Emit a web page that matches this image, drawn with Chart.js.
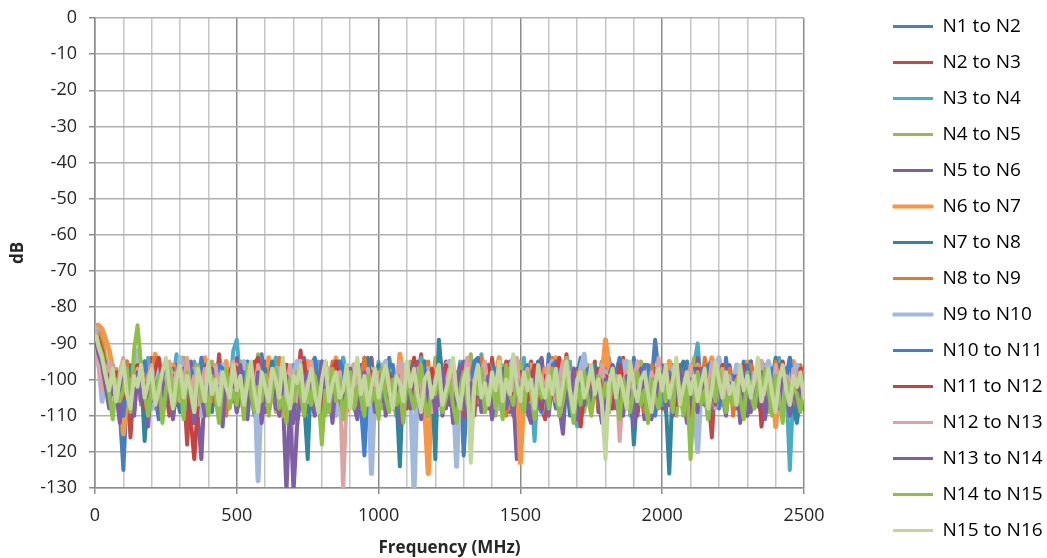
<!DOCTYPE html>
<html>
<head>
<meta charset="utf-8">
<script src="https://cdn.jsdelivr.net/npm/chart.js@4.4.1/dist/chart.umd.min.js"></script>
<style>
  html, body { margin: 0; padding: 0; background: #ffffff; }
  #grafico { display: block; }
</style>
</head>
<body>
<canvas id="grafico" width="1047" height="558"></canvas>
<script>
// frecuencia de cada muestra (MHz)
const frecuencias = [
  5, 12.5, 25, 37.5, 50, 62.5, 75, 87.5, 100, 112.5, 125, 137.5, 150, 162.5, 175, 187.5, 200, 212.5, 225, 237.5,
  250, 262.5, 275, 287.5, 300, 312.5, 325, 337.5, 350, 362.5, 375, 387.5, 400, 412.5, 425, 437.5, 450, 462.5, 475, 487.5,
  500, 512.5, 525, 537.5, 550, 562.5, 575, 587.5, 600, 612.5, 625, 637.5, 650, 662.5, 675, 687.5, 700, 712.5, 725, 737.5,
  750, 762.5, 775, 787.5, 800, 812.5, 825, 837.5, 850, 862.5, 875, 887.5, 900, 912.5, 925, 937.5, 950, 962.5, 975, 987.5,
  1000, 1012.5, 1025, 1037.5, 1050, 1062.5, 1075, 1087.5, 1100, 1112.5, 1125, 1137.5, 1150, 1162.5, 1175, 1187.5, 1200, 1212.5, 1225, 1237.5,
  1250, 1262.5, 1275, 1287.5, 1300, 1312.5, 1325, 1337.5, 1350, 1362.5, 1375, 1387.5, 1400, 1412.5, 1425, 1437.5, 1450, 1462.5, 1475, 1487.5,
  1500, 1512.5, 1525, 1537.5, 1550, 1562.5, 1575, 1587.5, 1600, 1612.5, 1625, 1637.5, 1650, 1662.5, 1675, 1687.5, 1700, 1712.5, 1725, 1737.5,
  1750, 1762.5, 1775, 1787.5, 1800, 1812.5, 1825, 1837.5, 1850, 1862.5, 1875, 1887.5, 1900, 1912.5, 1925, 1937.5, 1950, 1962.5, 1975, 1987.5,
  2000, 2012.5, 2025, 2037.5, 2050, 2062.5, 2075, 2087.5, 2100, 2112.5, 2125, 2137.5, 2150, 2162.5, 2175, 2187.5, 2200, 2212.5, 2225, 2237.5,
  2250, 2262.5, 2275, 2287.5, 2300, 2312.5, 2325, 2337.5, 2350, 2362.5, 2375, 2387.5, 2400, 2412.5, 2425, 2437.5, 2450, 2462.5, 2475, 2487.5,
  2500];

// acoplamiento medido en dB para cada par de nodos
const n1n2 = [
  -88, -90, -93, -97, -101, -96, -104, -109, -125, -103, -99, -106, -97, -102, -108, -95, -100, -105, -111, -98,
  -96, -103, -99, -107, -101, -94, -98, -105, -112, -100, -96, -102, -108, -99, -104, -95, -101, -109, -97, -103,
  -106, -98, -101, -95, -104, -110, -99, -93, -102, -107, -97, -105, -100, -96, -108, -103, -99, -111, -101, -94,
  -104, -98, -107, -100, -95, -103, -109, -97, -101, -106, -94, -102, -99, -108, -96, -104, -100, -110, -118, -103,
  -97, -105, -100, -94, -102, -108, -99, -96, -104, -101, -107, -95, -103, -110, -98, -100, -106, -93, -101, -105,
  -97, -109, -102, -96, -121, -104, -99, -95, -107, -101, -98, -105, -110, -100, -94, -103, -108, -97, -101, -106,
  -95, -102, -99, -109, -104, -97, -100, -106, -93, -103, -108, -98, -101, -96, -105, -111, -99, -94, -104, -100,
  -107, -97, -102, -95, -105, -109, -100, -98, -104, -96, -101, -108, -94, -103, -99, -106, -97, -101, -89, -98,
  -104, -109, -100, -96, -103, -107, -99, -95, -105, -111, -101, -97, -104, -100, -108, -96, -102, -106, -94, -103,
  -99, -107, -101, -95, -110, -103, -98, -104, -100, -96, -106, -102, -108, -97, -101, -105, -94, -103, -109, -99,
  -97];
const n2n3 = [
  -86, -88, -91, -95, -100, -104, -98, -102, -107, -97, -116, -101, -95, -103, -99, -108, -94, -105, -100, -97,
  -103, -110, -98, -104, -96, -101, -118, -99, -106, -102, -95, -109, -100, -97, -105, -93, -103, -108, -99, -101,
  -96, -104, -107, -98, -102, -95, -110, -100, -97, -105, -101, -94, -108, -103, -99, -106, -96, -102, -92, -104,
  -109, -100, -97, -103, -107, -95, -101, -111, -98, -104, -100, -96, -105, -99, -108, -102, -94, -106, -101, -97,
  -103, -99, -95, -107, -101, -104, -110, -98, -96, -102, -106, -100, -93, -104, -108, -97, -101, -105, -99, -95,
  -107, -102, -98, -104, -110, -96, -101, -106, -99, -103, -97, -108, -94, -102, -105, -100, -96, -109, -101, -98,
  -104, -106, -99, -95, -103, -100, -108, -111, -97, -102, -96, -105, -101, -93, -107, -99, -104, -98, -102, -106,
  -100, -95, -109, -101, -97, -104, -107, -99, -103, -94, -105, -100, -98, -110, -102, -96, -106, -101, -97, -104,
  -108, -99, -95, -103, -100, -106, -97, -102, -109, -101, -96, -105, -99, -104, -116, -100, -94, -107, -103, -98,
  -101, -105, -97, -108, -100, -95, -103, -99, -106, -102, -96, -109, -101, -98, -104, -100, -107, -95, -102, -99,
  -101];
const n3n4 = [
  -87, -90, -94, -99, -103, -97, -106, -101, -110, -95, -104, -99, -97, -107, -101, -94, -103, -108, -98, -102,
  -96, -105, -100, -93, -104, -99, -107, -102, -95, -101, -109, -97, -103, -100, -106, -96, -102, -98, -105, -92,
  -89, -101, -97, -104, -100, -109, -95, -103, -99, -106, -101, -94, -105, -98, -102, -108, -96, -100, -104, -97,
  -103, -99, -107, -95, -115, -101, -98, -104, -100, -106, -94, -102, -97, -108, -103, -99, -105, -96, -101, -107,
  -95, -103, -100, -98, -106, -110, -102, -96, -104, -99, -101, -107, -94, -103, -97, -105, -100, -108, -96, -102,
  -99, -104, -106, -95, -101, -97, -109, -103, -100, -93, -105, -98, -102, -107, -96, -104, -100, -97, -108, -101,
  -99, -94, -106, -102, -117, -100, -97, -104, -108, -96, -101, -105, -99, -103, -95, -107, -113, -100, -98, -104,
  -102, -96, -105, -100, -108, -94, -101, -106, -97, -103, -99, -110, -104, -95, -102, -98, -106, -100, -97, -105,
  -107, -101, -95, -103, -99, -106, -98, -104, -100, -96, -90, -102, -105, -97, -109, -101, -96, -104, -100, -98,
  -102, -107, -97, -104, -99, -95, -108, -101, -96, -103, -100, -106, -98, -94, -105, -101, -125, -103, -99, -106,
  -104];
const n4n5 = [
  -85, -86, -89, -94, -99, -103, -97, -101, -108, -96, -104, -99, -92, -102, -107, -98, -103, -100, -95, -106,
  -101, -97, -110, -99, -104, -94, -100, -106, -98, -103, -96, -108, -101, -95, -105, -99, -102, -109, -97, -104,
  -100, -95, -107, -103, -98, -101, -93, -106, -100, -104, -97, -109, -102, -96, -105, -99, -101, -108, -95, -103,
  -99, -106, -100, -97, -104, -110, -98, -102, -95, -107, -101, -96, -103, -99, -108, -100, -94, -105, -102, -97,
  -103, -108, -99, -101, -96, -110, -104, -98, -102, -95, -106, -100, -97, -105, -101, -108, -94, -103, -99, -106,
  -96, -102, -100, -107, -104, -98, -93, -105, -101, -97, -106, -99, -103, -110, -100, -96, -104, -108, -98, -101,
  -95, -103, -99, -106, -100, -97, -108, -102, -96, -104, -101, -107, -99, -94, -105, -100, -103, -98, -109, -102,
  -97, -104, -100, -95, -106, -109, -101, -98, -103, -96, -107, -100, -104, -99, -95, -102, -108, -101, -97, -105,
  -100, -103, -98, -106, -110, -101, -96, -104, -99, -94, -103, -107, -100, -97, -105, -101, -108, -96, -102, -99,
  -104, -106, -98, -101, -95, -103, -107, -100, -97, -104, -109, -99, -102, -96, -105, -101, -98, -107, -103, -99,
  -103];
const n5n6 = [
  -89, -91, -95, -100, -97, -104, -99, -108, -102, -96, -106, -110, -98, -103, -95, -107, -101, -97, -105, -100,
  -104, -98, -109, -96, -102, -107, -100, -95, -105, -110, -122, -101, -97, -104, -99, -108, -103, -96, -100, -106,
  -94, -102, -109, -99, -104, -97, -101, -107, -95, -103, -100, -108, -98, -105, -131, -106, -112, -99, -104, -99,
  -101, -96, -108, -103, -99, -105, -97, -110, -101, -95, -104, -100, -107, -98, -103, -96, -109, -101, -94, -105,
  -100, -106, -97, -103, -108, -99, -111, -104, -96, -101, -98, -105, -102, -95, -108, -100, -104, -97, -110, -101,
  -97, -103, -106, -99, -95, -104, -101, -108, -98, -102, -96, -107, -100, -104, -97, -109, -102, -95, -105, -122,
  -100, -98, -104, -107, -100, -96, -94, -103, -107, -101, -99, -110, -104, -96, -101, -106, -98, -103, -99, -105,
  -104, -97, -100, -108, -102, -95, -108, -101, -97, -104, -95, -100, -106, -99, -102, -111, -98, -104, -101, -96,
  -96, -103, -107, -100, -99, -105, -97, -102, -107, -110, -94, -101, -104, -98, -109, -102, -97, -105, -100, -96,
  -103, -108, -98, -101, -110, -95, -104, -100, -107, -97, -101, -105, -99, -96, -106, -102, -108, -100, -97, -104,
  -99];
const n6n7 = [
  -85, -85, -86, -89, -92, -97, -103, -99, -115, -104, -98, -101, -95, -106, -100, -97, -104, -93, -102, -108,
  -99, -105, -96, -101, -108, -95, -103, -100, -97, -106, -102, -94, -99, -107, -104, -98, -101, -95, -105, -100,
  -96, -103, -109, -98, -102, -105, -97, -100, -107, -94, -101, -104, -99, -110, -96, -103, -100, -97, -106, -102,
  -95, -104, -99, -108, -101, -97, -103, -100, -94, -106, -98, -102, -105, -96, -101, -109, -99, -104, -97, -103,
  -100, -96, -106, -102, -98, -105, -93, -101, -107, -99, -104, -97, -102, -108, -126, -103, -96, -100, -105, -99,
  -95, -101, -104, -98, -108, -102, -96, -100, -106, -99, -103, -97, -105, -101, -94, -107, -100, -103, -98, -95,
  -123, -104, -99, -96, -103, -100, -107, -97, -101, -105, -94, -102, -108, -99, -104, -97, -100, -106, -96, -103,
  -101, -98, -105, -100, -89, -97, -103, -107, -99, -95, -104, -101, -110, -98, -102, -96, -106, -100, -97, -104,
  -100, -103, -95, -99, -106, -101, -97, -104, -109, -102, -96, -100, -105, -98, -94, -103, -101, -107, -99, -104,
  -102, -97, -108, -101, -96, -104, -99, -103, -95, -106, -100, -98, -113, -102, -97, -105, -101, -95, -104, -100,
  -98];
const n7n8 = [
  -90, -92, -95, -101, -97, -104, -99, -103, -108, -100, -96, -105, -101, -98, -117, -104, -100, -96, -103, -99,
  -106, -101, -97, -104, -109, -100, -95, -102, -98, -106, -103, -97, -101, -109, -96, -104, -100, -107, -99, -102,
  -107, -98, -103, -96, -101, -99, -110, -104, -97, -101, -95, -103, -105, -99, -98, -102, -104, -100, -96, -106,
  -122, -97, -105, -100, -104, -98, -106, -101, -95, -103, -108, -99, -104, -100, -97, -106, -101, -94, -103, -100,
  -96, -105, -101, -98, -100, -104, -124, -99, -98, -103, -101, -107, -104, -95, -103, -99, -122, -89, -100, -102,
  -102, -97, -99, -106, -104, -97, -101, -104, -100, -96, -109, -103, -96, -100, -103, -108, -101, -97, -105, -99,
  -98, -102, -105, -99, -100, -95, -107, -101, -102, -98, -99, -105, -104, -100, -110, -103, -97, -101, -100, -106,
  -103, -96, -100, -104, -106, -99, -96, -102, -101, -105, -108, -100, -118, -103, -99, -97, -104, -101, -97, -103,
  -102, -106, -126, -100, -100, -97, -95, -103, -105, -100, -99, -104, -107, -98, -101, -95, -96, -103, -104, -100,
  -100, -105, -109, -99, -97, -101, -103, -107, -99, -102, -106, -100, -94, -103, -102, -97, -105, -108, -112, -104,
  -108];
const n8n9 = [
  -86, -88, -91, -97, -102, -99, -103, -108, -100, -95, -106, -101, -96, -104, -99, -107, -102, -94, -100, -105,
  -98, -103, -109, -97, -101, -105, -96, -100, -108, -102, -95, -104, -99, -106, -101, -97, -103, -110, -98, -102,
  -104, -96, -100, -107, -99, -103, -95, -105, -101, -98, -106, -100, -94, -103, -108, -97, -102, -99, -105, -110,
  -100, -96, -104, -101, -107, -98, -102, -95, -105, -100, -97, -109, -103, -99, -106, -101, -94, -104, -98, -102,
  -106, -100, -97, -105, -103, -99, -108, -101, -96, -104, -100, -107, -98, -102, -95, -109, -103, -97, -101, -105,
  -99, -104, -100, -96, -108, -102, -98, -105, -101, -94, -103, -107, -100, -97, -104, -99, -110, -102, -96, -101,
  -105, -98, -103, -100, -107, -96, -101, -104, -99, -94, -106, -102, -97, -103, -100, -108, -98, -105, -101, -96,
  -104, -100, -107, -97, -102, -99, -105, -101, -95, -103, -98, -106, -100, -104, -97, -109, -102, -96, -101, -105,
  -99, -103, -106, -97, -101, -104, -100, -108, -96, -102, -99, -105, -94, -101, -107, -98, -103, -100, -106, -97,
  -110, -102, -98, -104, -100, -96, -106, -101, -97, -103, -99, -108, -95, -101, -104, -98, -102, -106, -100, -96,
  -101];
const n9n10 = [
  -86, -95, -106, -101, -95, -99, -100, -104, -97, -102, -104, -98, -92, -100, -101, -106, -108, -99, -96, -103,
  -103, -97, -99, -105, -94, -101, -105, -108, -100, -96, -110, -103, -97, -100, -102, -107, -96, -101, -106, -99,
  -100, -104, -95, -102, -103, -98, -128, -100, -99, -106, -104, -97, -97, -103, -108, -101, -101, -95, -95, -104,
  -106, -99, -100, -105, -97, -101, -104, -107, -110, -98, -99, -104, -103, -96, -96, -102, -105, -99, -126, -101,
  -100, -97, -95, -103, -107, -100, -102, -96, -98, -104, -131, -99, -101, -105, -97, -100, -104, -108, -99, -96,
  -95, -102, -124, -99, -100, -105, -106, -98, -97, -101, -103, -96, -99, -107, -108, -102, -101, -97, -94, -103,
  -104, -98, -100, -106, -97, -103, -109, -100, -102, -95, -96, -104, -105, -99, -99, -103, -103, -97, -93, -101,
  -107, -104, -101, -97, -98, -103, -104, -100, -100, -96, -95, -102, -106, -99, -102, -105, -97, -101, -108, -99,
  -99, -104, -103, -97, -96, -101, -105, -98, -101, -106, -120, -102, -98, -103, -104, -99, -94, -100, -106, -103,
  -101, -96, -97, -104, -103, -100, -99, -106, -107, -97, -95, -101, -102, -108, -108, -99, -100, -97, -96, -102,
  -104];
const n10n11 = [
  -88, -90, -93, -96, -98, -103, -104, -109, -110, -101, -97, -105, -102, -96, -95, -100, -106, -102, -100, -104,
  -96, -101, -103, -107, -99, -102, -108, -97, -101, -105, -94, -99, -105, -102, -100, -96, -97, -104, -103, -99,
  -109, -104, -98, -101, -102, -107, -95, -99, -104, -101, -100, -106, -107, -98, -96, -103, -101, -99, -105, -102,
  -99, -96, -94, -101, -103, -106, -108, -100, -100, -95, -97, -104, -105, -101, -102, -107, -121, -99, -98, -103,
  -104, -100, -100, -96, -96, -103, -107, -101, -101, -98, -95, -104, -103, -97, -110, -102, -99, -105, -104, -100,
  -97, -103, -102, -99, -106, -101, -100, -95, -94, -104, -108, -100, -101, -97, -97, -105, -103, -99, -99, -104,
  -105, -98, -96, -101, -102, -107, -109, -100, -100, -96, -95, -103, -104, -99, -98, -106, -106, -101, -101, -97,
  -97, -104, -103, -100, -99, -105, -107, -98, -94, -102, -100, -106, -105, -101, -101, -96, -96, -104, -110, -103,
  -102, -99, -98, -103, -104, -100, -100, -107, -106, -97, -97, -103, -101, -96, -95, -105, -108, -100, -103, -99,
  -99, -104, -104, -98, -96, -101, -101, -107, -109, -102, -98, -97, -103, -104, -100, -99, -94, -102, -106, -100,
  -100];
const n11n12 = [
  -87, -89, -92, -97, -103, -100, -98, -104, -105, -99, -100, -97, -96, -103, -108, -102, -101, -97, -94, -100,
  -104, -106, -99, -102, -106, -97, -101, -111, -122, -107, -101, -97, -95, -100, -103, -109, -104, -100, -98, -96,
  -97, -103, -105, -99, -101, -96, -94, -104, -109, -102, -99, -105, -103, -98, -96, -100, -106, -103, -100, -95,
  -104, -98, -101, -106, -110, -99, -103, -97, -95, -102, -107, -100, -99, -104, -96, -101, -108, -103, -98, -105,
  -100, -97, -103, -99, -105, -101, -96, -104, -108, -100, -94, -102, -106, -99, -103, -97, -101, -107, -100, -96,
  -103, -99, -105, -100, -97, -104, -101, -110, -98, -102, -106, -96, -100, -104, -99, -103, -95, -101, -107, -102,
  -98, -102, -106, -100, -96, -103, -108, -99, -101, -105, -97, -94, -102, -104, -100, -98, -106, -113, -103, -99,
  -101, -105, -97, -103, -99, -100, -108, -104, -96, -101, -106, -99, -102, -97, -105, -100, -103, -107, -98, -104,
  -100, -96, -103, -99, -107, -101, -104, -98, -110, -102, -97, -105, -100, -103, -99, -106, -101, -96, -104, -100,
  -105, -99, -102, -96, -103, -108, -100, -97, -113, -104, -100, -106, -98, -102, -95, -101, -105, -99, -103, -97,
  -106];
const n12n13 = [
  -87, -96, -103, -99, -95, -101, -106, -98, -94, -103, -100, -107, -97, -102, -105, -99, -96, -104, -101, -108,
  -100, -95, -103, -98, -106, -101, -94, -104, -99, -107, -102, -97, -105, -100, -96, -103, -109, -99, -102, -95,
  -103, -98, -106, -101, -99, -104, -96, -100, -107, -102, -97, -105, -110, -99, -103, -96, -101, -106, -98, -104,
  -100, -95, -102, -107, -99, -103, -97, -101, -105, -98, -131, -104, -100, -96, -103, -108, -101, -97, -105, -100,
  -98, -103, -96, -101, -106, -99, -95, -104, -100, -107, -102, -97, -105, -99, -103, -109, -100, -96, -104, -101,
  -97, -103, -99, -105, -101, -94, -107, -100, -103, -98, -95, -104, -101, -106, -99, -102, -108, -97, -103, -94,
  -105, -100, -97, -103, -108, -101, -99, -104, -96, -102, -106, -100, -95, -103, -98, -107, -101, -97, -104, -100,
  -98, -104, -101, -96, -103, -107, -100, -99, -117, -102, -97, -105, -101, -95, -103, -100, -106, -98, -102, -94,
  -103, -99, -106, -101, -97, -104, -100, -107, -96, -102, -98, -105, -100, -103, -95, -108, -101, -97, -104, -99,
  -106, -101, -97, -103, -100, -105, -98, -102, -95, -104, -100, -108, -96, -101, -103, -99, -106, -97, -102, -100,
  -104];
const n13n14 = [
  -90, -93, -96, -102, -108, -99, -104, -112, -95, -101, -105, -110, -98, -106, -101, -113, -97, -104, -109, -100,
  -107, -99, -111, -103, -96, -108, -101, -105, -112, -98, -104, -110, -100, -97, -107, -102, -113, -99, -106, -101,
  -109, -96, -104, -111, -100, -106, -98, -112, -103, -108, -97, -105, -110, -101, -99, -107, -131, -113, -104, -100,
  -98, -106, -110, -102, -95, -108, -103, -112, -99, -105, -109, -100, -97, -107, -111, -103, -98, -106, -101, -109,
  -104, -97, -110, -102, -107, -99, -112, -105, -100, -108, -96, -103, -111, -98, -106, -101, -109, -104, -97, -108,
  -100, -112, -103, -96, -107, -110, -101, -105, -98, -109, -104, -99, -111, -102, -106, -97, -108, -103, -110, -100,
  -105, -98, -109, -112, -101, -96, -106, -103, -110, -99, -104, -108, -115, -100, -106, -97, -111, -103, -107, -101,
  -109, -98, -105, -112, -100, -104, -96, -108, -103, -110, -99, -106, -113, -101, -97, -107, -104, -111, -100, -105,
  -98, -108, -103, -110, -101, -96, -106, -112, -100, -105, -109, -97, -104, -111, -102, -107, -99, -105, -110, -101,
  -106, -100, -112, -97, -104, -109, -102, -107, -98, -111, -103, -105, -99, -108, -96, -104, -110, -101, -107, -103,
  -106];
const n14n15 = [
  -88, -90, -93, -98, -104, -111, -100, -106, -103, -97, -109, -92, -85, -96, -104, -110, -101, -107, -99, -112,
  -103, -97, -108, -105, -100, -111, -98, -104, -109, -96, -106, -102, -110, -99, -105, -112, -101, -97, -108, -103,
  -107, -100, -111, -96, -104, -109, -102, -106, -99, -110, -103, -97, -108, -105, -112, -100, -106, -98, -104, -110,
  -101, -107, -99, -104, -118, -103, -109, -97, -106, -100, -111, -104, -98, -108, -102, -105, -110, -99, -106, -103,
  -111, -97, -105, -109, -100, -107, -103, -112, -98, -104, -108, -101, -96, -106, -110, -102, -104, -99, -109, -105,
  -100, -107, -112, -103, -98, -106, -110, -101, -104, -97, -109, -105, -99, -108, -102, -111, -96, -104, -107, -101,
  -106, -109, -98, -104, -111, -100, -105, -102, -108, -97, -103, -110, -106, -99, -104, -112, -101, -107, -98, -105,
  -110, -103, -99, -106, -101, -108, -97, -104, -111, -100, -105, -109, -102, -98, -107, -103, -112, -100, -105, -108,
  -99, -106, -102, -109, -96, -104, -110, -101, -122, -105, -98, -107, -103, -111, -100, -106, -97, -104, -109, -102,
  -107, -100, -105, -111, -98, -104, -108, -101, -106, -97, -103, -110, -99, -105, -112, -100, -107, -102, -104, -109,
  -102];
const n15n16 = [
  -88, -91, -94, -99, -103, -97, -106, -100, -95, -104, -108, -99, -102, -96, -105, -101, -97, -107, -103, -98,
  -94, -102, -108, -100, -96, -105, -99, -103, -109, -97, -101, -106, -95, -104, -100, -107, -98, -102, -105, -96,
  -103, -99, -107, -101, -95, -104, -109, -98, -102, -106, -97, -100, -105, -94, -103, -108, -99, -101, -96, -106,
  -102, -97, -104, -109, -100, -95, -106, -101, -98, -105, -103, -96, -108, -100, -94, -104, -99, -107, -102, -97,
  -105, -100, -96, -103, -108, -99, -101, -106, -95, -102, -97, -104, -109, -100, -98, -105, -101, -96, -107, -103,
  -99, -94, -104, -108, -100, -97, -123, -102, -96, -105, -101, -107, -98, -103, -95, -106, -100, -104, -93, -101,
  -106, -98, -103, -100, -108, -96, -102, -105, -99, -104, -97, -107, -101, -95, -103, -109, -100, -98, -105, -102,
  -96, -104, -100, -107, -122, -101, -97, -105, -99, -103, -108, -95, -102, -106, -100, -98, -104, -109, -101, -97,
  -103, -96, -105, -100, -94, -107, -102, -98, -104, -99, -106, -101, -97, -108, -103, -95, -100, -105, -98, -104,
  -101, -107, -96, -103, -99, -105, -100, -94, -106, -102, -97, -104, -109, -100, -96, -103, -107, -99, -102, -98,
  -105];

const series = [n1n2, n2n3, n3n4, n4n5, n5n6, n6n7, n7n8, n8n9, n9n10, n10n11, n11n12, n12n13, n13n14, n14n15, n15n16];
const nombres = ["N1 to N2", "N2 to N3", "N3 to N4", "N4 to N5", "N5 to N6", "N6 to N7", "N7 to N8", "N8 to N9",
  "N9 to N10", "N10 to N11", "N11 to N12", "N12 to N13", "N13 to N14", "N14 to N15", "N15 to N16"];
const colores = ["#4a7ebb", "#be4b48", "#4bacc6", "#98b954", "#7d60a0", "#f79646", "#31859c", "#e0782f",
  "#a3b9dc", "#3f7fcb", "#c8413e", "#dba3a1", "#7f5fa8", "#8fbf4a", "#c3d69b"];
const grosores = [4, 4, 4, 4, 4, 5, 4, 4, 5, 4, 4, 4, 4, 4, 4];

const ejeY = ["0", "-10", "-20", "-30", "-40", "-50", "-60", "-70", "-80", "-90", "-100", "-110", "-120", "-130"];

const fuente = "'Open Sans', 'Noto Sans', sans-serif";
const grisEje = "#8c8c8c";
const grisMalla = "#b0b0b0";
const grisMenor = "#c6c6c6";
const colorTexto = "#262626";

Chart.defaults.font.family = fuente;

// la leyenda queda separada del área del gráfico, como en la hoja original
const moverLeyenda = {
  id: "moverLeyenda",
  afterLayout(chart) {
    chart.legend.left = chart.chartArea.right + 72;
    chart.legend.right = chart.width;
  }
};

const ctx = document.getElementById("grafico").getContext("2d");

const grafico = new Chart(ctx, {
  type: "line",
  data: {
    datasets: series.map((valores, i) => ({
      label: nombres[i],
      data: valores.map((v, k) => ({ x: frecuencias[k], y: v })),
      borderColor: colores[i],
      backgroundColor: colores[i],
      borderWidth: grosores[i],
      borderJoinStyle: "round",
      borderCapStyle: "round",
      pointRadius: 0,
      tension: 0,
      fill: false,
      order: series.length - i
    }))
  },
  plugins: [moverLeyenda],
  options: {
    responsive: false,
    animation: false,
    events: [],
    plugins: {
      legend: {
        position: "right",
        align: "start",
        labels: {
          font: { size: 19 },
          color: colorTexto,
          boxWidth: 40,
          boxHeight: 3,
          padding: 17,
          generateLabels: chart => chart.data.datasets.map((d, i) => ({
            text: d.label,
            fillStyle: d.borderColor,
            strokeStyle: d.borderColor,
            lineWidth: grosores[i] > 4 ? 1 : 0,
            hidden: false,
            datasetIndex: i
          }))
        }
      },
      tooltip: { enabled: false }
    },
    scales: {
      x: {
        type: "linear",
        min: 0,
        max: 2500,
        afterFit: escala => {
          escala.height = 70;
          escala.paddingRight = 243;
        },
        ticks: {
          stepSize: 100,
          autoSkip: false,
          maxRotation: 0,
          padding: 11,
          color: colorTexto,
          font: { size: 18 },
          callback: v => (v % 500 === 0 ? String(v) : "")
        },
        grid: {
          lineWidth: 1.5,
          tickLength: 6,
          color: c => (c.tick && c.tick.value % 500 === 0 ? grisEje : grisMenor),
          tickColor: c => (c.tick && c.tick.value % 500 === 0 ? grisEje : "rgba(0,0,0,0)")
        },
        border: { color: grisEje, width: 1.5 },
        title: {
          display: true,
          text: "Frequency (MHz)",
          color: colorTexto,
          font: { size: 17, weight: "bold" },
          padding: { top: 0, bottom: 0 }
        }
      },
      y: {
        min: -130,
        max: 0,
        afterFit: escala => {
          escala.width = 95;
          escala.paddingTop = 18;
        },
        ticks: {
          stepSize: 10,
          padding: 12,
          color: colorTexto,
          font: { size: 18 },
          callback: v => ejeY[-v / 10]
        },
        grid: {
          lineWidth: 1.5,
          tickLength: 6,
          color: grisMalla,
          tickColor: grisEje
        },
        border: { color: grisEje, width: 1.5 },
        title: {
          display: true,
          text: "dB",
          color: colorTexto,
          font: { size: 17, weight: "bold" },
          padding: { top: 8, bottom: 0 }
        }
      }
    }
  }
});
</script>
</body>
</html>
